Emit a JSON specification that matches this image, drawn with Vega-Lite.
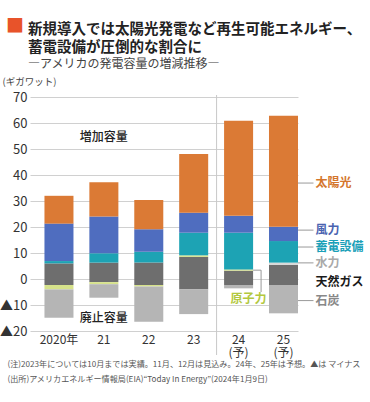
{
  "$schema": "https://vega.github.io/schema/vega-lite/v6.json",
  "width": 268,
  "height": 234,
  "autosize": {"type": "none"},
  "padding": {"left": 30, "top": 97, "right": 72, "bottom": 71},
  "background": "white",
  "config": {
    "font": "Noto Sans CJK JP",
    "view": {"stroke": null},
    "axis": {"labelFont": "Noto Sans CJK JP", "titleFont": "Noto Sans CJK JP"}
  },
  "title": {
    "text": ["新規導入では太陽光発電など再生可能エネルギー、", "蓄電設備が圧倒的な割合に"],
    "subtitle": "　―アメリカの発電容量の増減推移―",
    "anchor": "start",
    "frame": "group",
    "dx": -2,
    "offset": -54,
    "font": "Noto Sans CJK JP",
    "fontSize": 14.5,
    "fontWeight": "bold",
    "color": "#222222",
    "lineHeight": 18,
    "subtitleFont": "Noto Sans CJK JP",
    "subtitleFontSize": 12,
    "subtitleColor": "#444444",
    "subtitlePadding": 4
  },
  "datasets": {
    "bars": [
      {"year": "2020", "cat": "天然ガス", "value": 6.0, "ord": 1},
      {"year": "2020", "cat": "蓄電設備", "value": 0.9, "ord": 4},
      {"year": "2020", "cat": "風力", "value": 14.4, "ord": 5},
      {"year": "2020", "cat": "太陽光", "value": 10.7, "ord": 6},
      {"year": "2020", "cat": "天然ガス", "value": -2.3, "ord": 1},
      {"year": "2020", "cat": "原子力", "value": -1.7, "ord": 2},
      {"year": "2020", "cat": "石炭", "value": -10.9, "ord": 3},
      {"year": "21", "cat": "天然ガス", "value": 6.3, "ord": 1},
      {"year": "21", "cat": "蓄電設備", "value": 3.6, "ord": 4},
      {"year": "21", "cat": "風力", "value": 14.1, "ord": 5},
      {"year": "21", "cat": "太陽光", "value": 13.2, "ord": 6},
      {"year": "21", "cat": "天然ガス", "value": -1.2, "ord": 1},
      {"year": "21", "cat": "原子力", "value": -0.8, "ord": 2},
      {"year": "21", "cat": "石炭", "value": -5.2, "ord": 3},
      {"year": "22", "cat": "天然ガス", "value": 6.3, "ord": 1},
      {"year": "22", "cat": "蓄電設備", "value": 4.2, "ord": 4},
      {"year": "22", "cat": "風力", "value": 8.6, "ord": 5},
      {"year": "22", "cat": "太陽光", "value": 11.3, "ord": 6},
      {"year": "22", "cat": "天然ガス", "value": -2.3, "ord": 1},
      {"year": "22", "cat": "原子力", "value": -0.6, "ord": 2},
      {"year": "22", "cat": "石炭", "value": -13.5, "ord": 3},
      {"year": "23", "cat": "天然ガス", "value": 8.5, "ord": 1},
      {"year": "23", "cat": "原子力", "value": 0.6, "ord": 2},
      {"year": "23", "cat": "蓄電設備", "value": 8.7, "ord": 4},
      {"year": "23", "cat": "風力", "value": 7.7, "ord": 5},
      {"year": "23", "cat": "太陽光", "value": 22.6, "ord": 6},
      {"year": "23", "cat": "天然ガス", "value": -4.0, "ord": 1},
      {"year": "23", "cat": "石炭", "value": -9.5, "ord": 3},
      {"year": "24", "cat": "天然ガス", "value": 3.2, "ord": 1},
      {"year": "24", "cat": "原子力", "value": 0.5, "ord": 2},
      {"year": "24", "cat": "蓄電設備", "value": 14.1, "ord": 4},
      {"year": "24", "cat": "風力", "value": 6.5, "ord": 5},
      {"year": "24", "cat": "太陽光", "value": 36.6, "ord": 6},
      {"year": "24", "cat": "天然ガス", "value": -2.3, "ord": 1},
      {"year": "24", "cat": "石炭", "value": -1.3, "ord": 3},
      {"year": "25", "cat": "天然ガス", "value": 5.4, "ord": 1},
      {"year": "25", "cat": "水力", "value": 0.9, "ord": 3},
      {"year": "25", "cat": "蓄電設備", "value": 8.3, "ord": 4},
      {"year": "25", "cat": "風力", "value": 5.5, "ord": 5},
      {"year": "25", "cat": "太陽光", "value": 42.7, "ord": 6},
      {"year": "25", "cat": "天然ガス", "value": -2.3, "ord": 1},
      {"year": "25", "cat": "石炭", "value": -10.9, "ord": 3}
    ],
    "labels": [
      {"label": "太陽光", "y": 36.9, "lead": 1},
      {"label": "風力", "y": 18.8, "lead": 1},
      {"label": "蓄電設備", "y": 12.3, "lead": 1},
      {"label": "水力", "y": 6.2, "lead": 1},
      {"label": "天然ガス", "y": -1.2, "lead": 0},
      {"label": "石炭", "y": -8.3, "lead": 1}
    ],
    "notes": [
      {"year": "21", "y": 54.6, "text": "増加容量"},
      {"year": "21", "y": -14.9, "text": "廃止容量"}
    ],
    "nuclear": [
      {"year": "24", "y": -7.7, "top": 3.4, "end": -5.0, "label": "原子力"}
    ]
  },
  "layer": [
    {
      "layer": [
        {
          "data": {"name": "bars"},
          "mark": {"type": "bar"},
          "encoding": {
            "x": {
              "field": "year",
              "type": "ordinal",
              "scale": {"domain": ["2020", "21", "22", "23", "24", "25"], "paddingInner": 0.354, "paddingOuter": 0.161, "align": 1},
              "axis": {
                "title": ["(注)2023年については10月までは実績。11月、12月は見込み。24年、25年は予想。▲は マイナス", "(出所)アメリカエネルギー情報局(EIA)“Today In Energy”(2024年1月9日)"],
                "titleX": -23,
                "titleY": 29,
                "titleAlign": "left",
                "titleBaseline": "top",
                "titleFontSize": 8.1,
                "titleFontWeight": "normal",
                "titleColor": "#555555",
                "titleLineHeight": 15,
                "labelAngle": 0,
                "labelFontSize": 12,
                "labelColor": "#333333",
                "labelPadding": 3,
                "labelLineHeight": 13,
                "labelOverlap": false,
                "ticks": false,
                "domain": false,
                "labelExpr": "datum.value == '2020' ? '2020年' : (datum.value == '24' || datum.value == '25') ? [datum.value, '(予)'] : datum.value"
              }
            },
            "y": {
              "field": "value",
              "type": "quantitative",
              "stack": "zero",
              "scale": {"domain": [-20, 70], "nice": false},
              "axis": {
                "values": [-20, -10, 0, 10, 20, 30, 40, 50, 60, 70],
                "tickCount": 10,
                "labelExpr": "datum.value < 0 ? '▲' + (-datum.value) : '' + datum.value",
                "labelOverlap": false,
                "title": "(ギガワット)",
                "titleAngle": 0,
                "titleX": -28,
                "titleY": -16,
                "titleAlign": "left",
                "titleBaseline": "middle",
                "titleFontSize": 9.5,
                "titleFontWeight": "normal",
                "titleColor": "#444444",
                "labelFontSize": 13,
                "labelColor": "#333333",
                "labelPadding": 3,
                "ticks": false,
                "domain": false,
                "gridColor": "#d0d0d0"
              }
            },
            "color": {
              "field": "cat",
              "type": "nominal",
              "scale": {
                "domain": ["太陽光", "風力", "蓄電設備", "水力", "原子力", "天然ガス", "石炭"],
                "range": ["#DB7A35", "#4F6DBF", "#1DA3B4", "#D8D8D8", "#D6E28B", "#6E6E6E", "#B5B5B5"]
              },
              "legend": null
            },
            "order": {"field": "ord", "type": "quantitative"}
          }
        },
        {
          "mark": {"type": "rule", "color": "#555555", "strokeWidth": 1, "x2Offset": 15},
          "encoding": {"y": {"datum": 0}}
        },
        {
          "data": {"name": "notes"},
          "mark": {"type": "text", "fontSize": 12, "fontWeight": 500, "color": "#222222"},
          "encoding": {
            "x": {"field": "year", "type": "ordinal"},
            "y": {"field": "y", "type": "quantitative"},
            "text": {"field": "text"}
          }
        },
        {
          "data": {"name": "labels"},
          "transform": [{"filter": "datum.lead == 1"}],
          "mark": {"type": "rule", "color": "#999999", "strokeWidth": 1, "xOffset": 14.5, "x2Offset": 30},
          "encoding": {
            "x": {"datum": "25", "type": "ordinal"},
            "x2": {"datum": "25"},
            "y": {"field": "y", "type": "quantitative"}
          }
        },
        {
          "data": {"name": "labels"},
          "mark": {"type": "text", "align": "left", "baseline": "middle", "dx": 32, "fontSize": 12, "fontWeight": "bold"},
          "encoding": {
            "x": {"datum": "25", "type": "ordinal"},
            "y": {"field": "y", "type": "quantitative"},
            "text": {"field": "label"},
            "fill": {
              "field": "label",
              "type": "nominal",
              "scale": {
                "domain": ["太陽光", "風力", "蓄電設備", "水力", "天然ガス", "石炭", "原子力"],
                "range": ["#D4762C", "#4A63B0", "#1AA0B8", "#A9A9A9", "#1A1A1A", "#888888", "#B3C83E"]
              },
              "legend": null
            }
          }
        },
        {
          "data": {"name": "nuclear"},
          "mark": {"type": "rule", "color": "#999999", "strokeWidth": 1, "xOffset": 14.5, "x2Offset": 22.5},
          "encoding": {
            "x": {"field": "year", "type": "ordinal"},
            "x2": {"field": "year"},
            "y": {"field": "top", "type": "quantitative"}
          }
        },
        {
          "data": {"name": "nuclear"},
          "mark": {"type": "rule", "color": "#999999", "strokeWidth": 1, "xOffset": 22.5},
          "encoding": {
            "x": {"field": "year", "type": "ordinal"},
            "y": {"field": "top", "type": "quantitative"},
            "y2": {"field": "end"}
          }
        },
        {
          "data": {"name": "nuclear"},
          "mark": {"type": "text", "align": "center", "baseline": "middle", "dx": 10, "fontSize": 12, "fontWeight": "bold"},
          "encoding": {
            "x": {"field": "year", "type": "ordinal"},
            "y": {"field": "y", "type": "quantitative"},
            "text": {"field": "label"},
            "fill": {"field": "label", "type": "nominal", "legend": null}
          }
        }
      ]
    },
    {
      "data": {"values": [{"k": 1}]},
      "mark": {"type": "rule", "color": "#c8c8c8", "strokeWidth": 1, "xOffset": -22, "yOffset": -2, "y2Offset": 24},
      "encoding": {
        "x": {"datum": "24", "type": "ordinal"},
        "y": {
          "datum": 70,
          "type": "quantitative",
          "scale": {"domain": [-20, 70], "nice": false},
          "axis": {
            "orient": "right",
            "labels": false,
            "ticks": false,
            "domain": false,
            "grid": false,
            "title": "■",
            "titleColor": "#E8532A",
            "titleFontSize": 18,
            "titleFontWeight": "normal",
            "titleAngle": 0,
            "titleX": -283.5,
            "titleY": -71,
            "titleAlign": "center",
            "titleBaseline": "middle"
          }
        },
        "y2": {"datum": -20}
      }
    }
  ],
  "resolve": {"scale": {"y": "independent"}}
}
